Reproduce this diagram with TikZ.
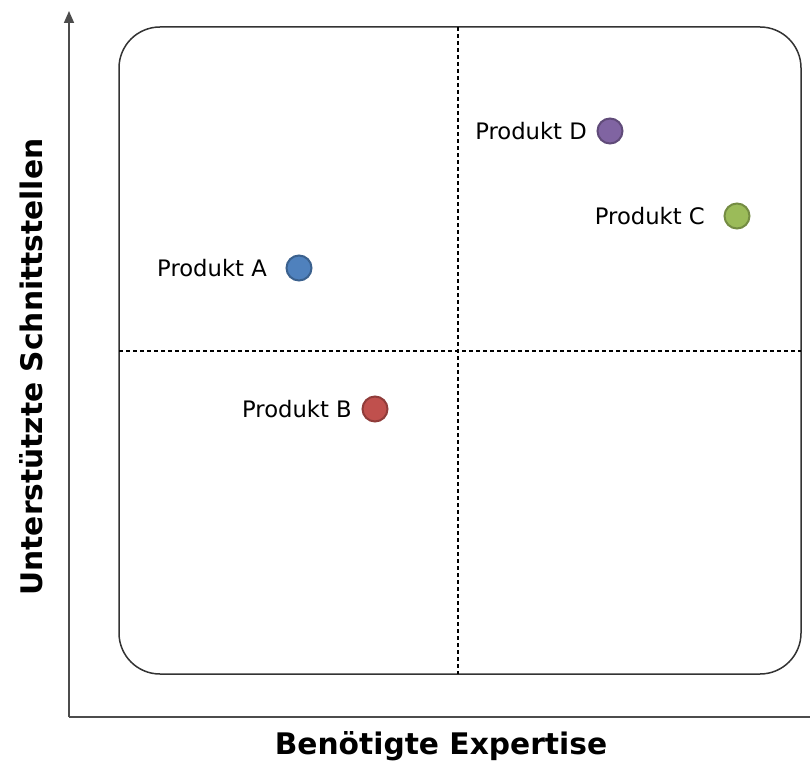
\documentclass[tikz,border=0pt]{standalone}
\usepackage{fontspec}
\setmainfont{DejaVu Sans}
\usepackage{tikz}
\usetikzlibrary{positioning}
\usetikzlibrary{arrows.meta,calc}
\definecolor{dotblue}{HTML}{4F81BD}
\definecolor{dotred}{HTML}{C0504D}
\definecolor{dotgreen}{HTML}{9BBB59}
\definecolor{dotpurple}{HTML}{8064A2}
\tikzstyle{product}=[circle,draw,line width=2pt,minimum size=25pt,inner sep=0pt]
\tikzstyle{productlabel}=[anchor=east,inner sep=0pt,font=\fontsize{22.7}{27}\selectfont]
\tikzstyle{axis} = [draw,line width=1.6pt,black!70]
\tikzstyle{axislabel} = [font=\fontsize{29.7}{34}\selectfont\bfseries]
\tikzstyle{divider} = [draw,line width=1.5pt,dash pattern=on 4pt off 3pt]

\begin{document}
\begin{tikzpicture}[x=1pt,y=-1pt]
\useasboundingbox (0,0) rectangle (810,765);

%axes
    \coordinate (origin) at (69,717);
    \coordinate (ytop) at (69,11);
    \coordinate (xend) at (810,717);
    \draw[axis, -{Triangle[width=10pt,length=12pt]}] (origin) -- (ytop);
    \draw[axis] (origin) -- (xend);
    \node[axislabel] (xlabel) at (441,746) {Benötigte Expertise};
    \node[axislabel, rotate=90] (ylabel) at (31,367) {Unterstützte Schnittstellen};

%frame and quadrants
    \node[draw, line width=1.5pt, black!80, rounded corners=41pt, minimum width=682pt, minimum height=647pt, inner sep=0pt] (frame) at (460,350.5) {};
    \coordinate (mtop) at (458,27);
    \coordinate (mbottom) at (458,674);
    \coordinate (mleft) at (119,351);
    \coordinate (mright) at (801,351);
    \path[divider] (mtop) -- (mbottom);
    \path[divider] (mleft) -- (mright);

    % products: dot, then its label
    \foreach \pos/\name/\col/\lx/\label in {{(299,268)/A/dotblue/267/A}, {(375,409)/B/dotred/352/B}, {(737,216)/C/dotgreen/705/C}, {(610,131)/D/dotpurple/587/D}}
    {
        \node[product, draw=\col!75!black, fill=\col] (\name) at \pos {};
        \node[productlabel] (label\name) at (\lx,0 |- \name.center) {Produkt \label};
    }

\end{tikzpicture}
\end{document}
